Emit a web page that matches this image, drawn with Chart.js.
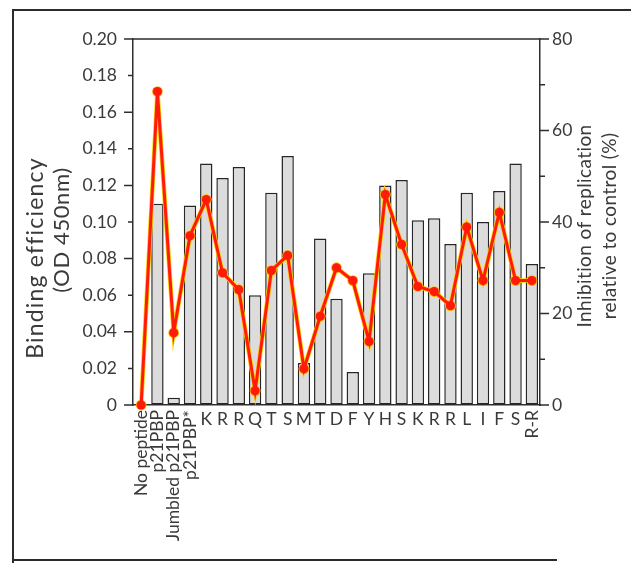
<!DOCTYPE html>
<html lang="en">
<head>
  <meta charset="UTF-8" />
  <title>Binding efficiency and inhibition of replication</title>
  <script src="https://cdn.jsdelivr.net/npm/chart.js"></script>
  <style>
    body { margin: 0; background: #fff; }
    #wrap { position: relative; width: 631px; height: 563px; }
    #frame {
      position: absolute; left: 12px; top: 9px; width: 617px; height: 552px;
      border-left: 2px solid #2b2b2b; border-top: 2px solid #2b2b2b;
      border-right: 2px solid #4a5878;
    }
    #frameBottom { position: absolute; left: 12px; top: 559px; width: 545px; border-top: 2px solid #2b2b2b; }
  </style>
</head>
<body>
  <div id="wrap">
    <div id="frame"></div>
    <div id="frameBottom"></div>
    <canvas id="chart"></canvas>
  </div>
  <script>
    const peptides = ['No peptide', 'p21PBP', 'Jumbled p21PBP', 'p21PBP*', 'K', 'R', 'R', 'Q', 'T', 'S',
      'M', 'T', 'D', 'F', 'Y', 'H', 'S', 'K', 'R', 'R', 'L', 'I', 'F', 'S', 'R-R'];
    const verticalLabels = [0, 1, 2, 3, 24];
    const binding = [0, 0.110, 0.004, 0.109, 0.132, 0.124, 0.130, 0.060, 0.116, 0.136,
      0.023, 0.091, 0.058, 0.018, 0.072, 0.120, 0.123, 0.101, 0.102, 0.088, 0.116, 0.100, 0.117, 0.132, 0.077];
    const inhibition = [0, 68.5, 15.8, 37.0, 44.9, 28.9, 25.2, 3.1, 29.4, 32.7,
      7.9, 19.4, 30.0, 27.2, 13.9, 46.0, 35.1, 25.9, 24.8, 21.7, 38.9, 27.2, 42.1, 27.2, 27.2];
    const leftTickLabels = ['0', '0.02', '0.04', '0.06', '0.08', '0.10', '0.12', '0.14', '0.16', '0.18', '0.20'];
    const rightTickLabels = ['0', '20', '40', '60', '80'];

    const fam = 'Lato, "DejaVu Sans", sans-serif';
    const ink = '#2e2e2e';
    const text = '#3a3a3a';

    // ticks, plot box, x labels and axis titles
    const decor = {
      id: 'decor',
      afterDraw(chart) {
        const { ctx, chartArea: a, scales: { x, y, y1 } } = chart;
        ctx.save();
        ctx.strokeStyle = ink;
        ctx.lineWidth = 1.5;
        ctx.beginPath();
        ctx.moveTo(a.left, a.top);
        ctx.lineTo(a.right, a.top);
        y.ticks.forEach((t, i) => {
          const py = y.getPixelForValue(t.value);
          ctx.moveTo(a.left - (i % 2 ? 5 : 9), py);
          ctx.lineTo(a.left, py);
        });
        y1.ticks.forEach((t, i) => {
          const py = y1.getPixelForValue(t.value);
          ctx.moveTo(a.right, py);
          ctx.lineTo(a.right + (i % 2 ? 5 : 9), py);
        });
        ctx.stroke();

        ctx.fillStyle = text;
        ctx.font = '17.5px ' + fam;
        peptides.forEach((name, i) => {
          const px = x.getPixelForValue(i);
          if (verticalLabels.includes(i)) {
            ctx.save();
            ctx.translate(px, 410);
            ctx.rotate(-Math.PI / 2);
            ctx.textAlign = 'right';
            ctx.textBaseline = 'middle';
            ctx.fillText(name, 0, 0);
            ctx.restore();
          } else {
            ctx.textAlign = 'center';
            ctx.textBaseline = 'alphabetic';
            ctx.fillText(name, px, 425);
          }
        });

        const title = (str, cx, cy, size, spacing) => {
          ctx.save();
          ctx.translate(cx, cy);
          ctx.rotate(-Math.PI / 2);
          ctx.font = size + 'px ' + fam;
          ctx.letterSpacing = spacing + 'px';
          ctx.textAlign = 'center';
          ctx.textBaseline = 'middle';
          ctx.fillText(str, 0, 0);
          ctx.restore();
        };
        title('Binding efficiency', 36, 258, 23, 1.2);
        title('(OD 450nm)', 62, 230, 22, 0.6);
        title('Inhibition of replication', 585, 226, 19, 0.4);
        title('relative to control (%)', 610, 226, 19, 0.4);
        ctx.restore();
      }
    };

    new Chart(document.getElementById('chart'), {
      data: {
        labels: peptides,
        datasets: [
          {
            type: 'line', data: inhibition, yAxisID: 'y1', order: 1,
            borderColor: '#ff1a0a', borderWidth: 3, tension: 0,
            pointRadius: 4.6, pointBackgroundColor: '#ff1a0a', pointBorderWidth: 0, clip: false
          },
          {
            type: 'line', data: inhibition, yAxisID: 'y1', order: 2,
            borderColor: '#ffd000', borderWidth: 4.5, tension: 0,
            pointRadius: 5.4, pointBackgroundColor: '#ffc000', pointBorderWidth: 0, clip: false
          },
          {
            type: 'bar', data: binding, yAxisID: 'y', order: 3,
            backgroundColor: '#dcdcdc', borderColor: '#262626', borderWidth: 1.5, borderSkipped: false,
            barPercentage: 0.76, categoryPercentage: 1
          }
        ]
      },
      options: {
        responsive: true,
        maintainAspectRatio: false,
        animation: false,
        layout: { padding: { top: 39, left: 0, right: 0, bottom: 0 } },
        plugins: { legend: { display: false }, tooltip: { enabled: false } },
        scales: {
          x: {
            afterFit(s) { s.height = 158; },
            ticks: { display: false },
            grid: { display: false },
            border: { display: true, color: ink, width: 1.5 }
          },
          y: {
            position: 'left', min: 0, max: 0.2,
            afterFit(s) { s.width = 133; },
            ticks: {
              stepSize: 0.01, padding: 16, color: text, font: { family: fam, size: 17.5 },
              callback: (v, i) => (i % 2 ? '' : leftTickLabels[i / 2])
            },
            grid: { drawOnChartArea: false, drawTicks: false },
            border: { display: true, color: ink, width: 1.5 }
          },
          y1: {
            position: 'right', min: 0, max: 80,
            afterFit(s) { s.width = 91; },
            ticks: {
              stepSize: 10, padding: 12, color: text, font: { family: fam, size: 17.5 },
              callback: (v, i) => (i % 2 ? '' : rightTickLabels[i / 2])
            },
            grid: { drawOnChartArea: false, drawTicks: false },
            border: { display: true, color: ink, width: 1.5 }
          }
        }
      },
      plugins: [decor]
    });
  </script>
</body>
</html>
